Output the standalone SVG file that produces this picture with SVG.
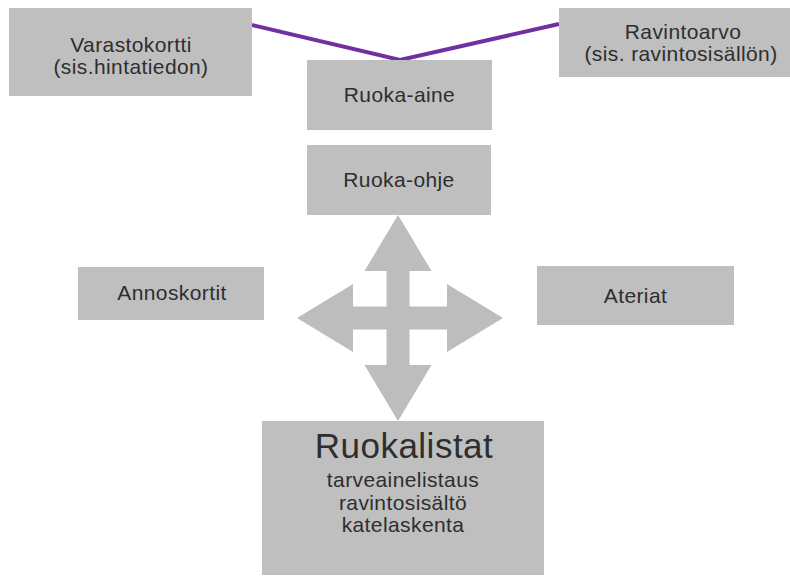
<svg xmlns="http://www.w3.org/2000/svg" width="790" height="584" viewBox="0 0 790 584">
<style>
.box{fill:#bfbfbf}
.t{font-family:"Liberation Sans",Arial,sans-serif;font-size:21px;fill:#2e2e2e;text-anchor:middle;letter-spacing:0.4px}
.big{font-size:35px;letter-spacing:0.5px}
.link{fill:none;stroke:#7030a0;stroke-width:4}
.arrow{fill:#bdbdbd}
</style>
<rect width="790" height="584" fill="#ffffff"/>
<g id="connectors">
<polyline class="link" points="252,25 400,60 559,24"/>
<polygon class="arrow" points="398,215 431.5,271 409.5,271 409.5,306.5 447,306.5 447,284 503,318 447,352 447,329.5 409.5,329.5 409.5,365 431.5,365 398,421 364.5,365 386.5,365 386.5,329.5 353,329.5 353,352 297,318 353,284 353,306.5 386.5,306.5 386.5,271 364.5,271"/>
</g>
<g id="varastokortti">
<rect class="box" x="9" y="8" width="243" height="88"/>
<text class="t" x="131" y="52">Varastokortti</text>
<text class="t" x="131" y="74">(sis.hintatiedon)</text>
</g>
<g id="ravintoarvo">
<rect class="box" x="559" y="8" width="250" height="69"/>
<text class="t" x="683" y="39">Ravintoarvo</text>
<text class="t" x="681" y="61">(sis. ravintosisällön)</text>
</g>
<g id="ruoka-aine">
<rect class="box" x="307" y="60" width="185" height="70"/>
<text class="t" x="399.5" y="102">Ruoka-aine</text>
</g>
<g id="ruoka-ohje">
<rect class="box" x="307" y="145" width="184" height="70"/>
<text class="t" x="399" y="187">Ruoka-ohje</text>
</g>
<g id="annoskortit">
<rect class="box" x="78" y="267" width="186" height="53"/>
<text class="t" x="172" y="300">Annoskortit</text>
</g>
<g id="ateriat">
<rect class="box" x="537" y="266" width="197" height="59"/>
<text class="t" x="635.5" y="303">Ateriat</text>
</g>
<g id="ruokalistat">
<rect class="box" x="262" y="421" width="282" height="154"/>
<text class="t big" x="404" y="458">Ruokalistat</text>
<text class="t" x="403" y="487">tarveainelistaus</text>
<text class="t" x="403" y="510">ravintosisältö</text>
<text class="t" x="403" y="532">katelaskenta</text>
</g>
</svg>
